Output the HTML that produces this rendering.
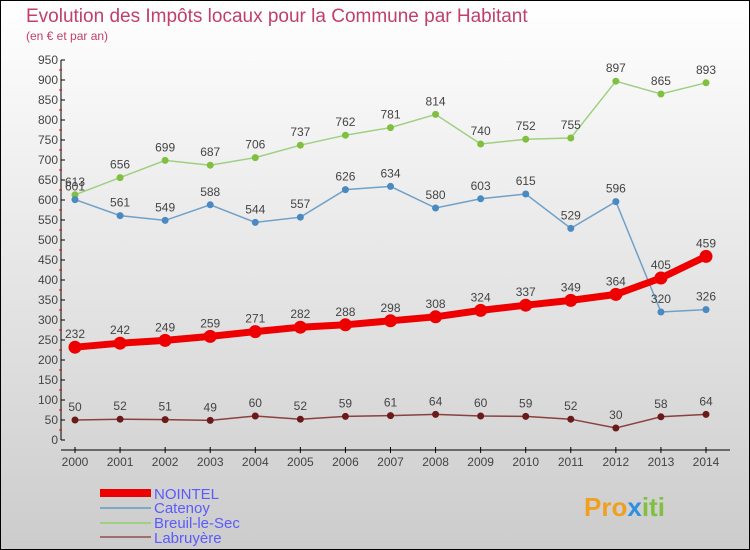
<!DOCTYPE html>
<html><head><meta charset="utf-8"><style>
body{margin:0}
#c{width:750px;height:550px;position:relative;overflow:hidden}
svg text{font-family:"Liberation Sans",sans-serif}
</style></head><body>
<div id="c">
<svg id="s" width="750" height="550" xmlns="http://www.w3.org/2000/svg">
<defs><linearGradient id="bg" x1="0" y1="0" x2="0" y2="1"><stop offset="0" stop-color="#ffffff"/><stop offset="1" stop-color="#cccccc"/></linearGradient></defs>
<rect x="0.5" y="0.5" width="749" height="549" fill="url(#bg)" stroke="#000"/>
<text x="26" y="22" font-size="19" fill="#c0406a">Evolution des Impôts locaux pour la Commune par Habitant</text>
<text x="26" y="40" font-size="12" fill="#c0406a">(en € et par an)</text>
<g id="axes"></g><g id="series"></g>
<g>
<rect x="100" y="489" width="51" height="8" fill="#e00"/>
<text x="154" y="499" font-size="15" fill="#5a5aff">NOINTEL</text>
<rect x="100" y="507" width="51" height="2" fill="#7fa8c8"/>
<text x="154" y="513" font-size="15" fill="#5a5aff">Catenoy</text>
<rect x="100" y="522" width="51" height="2" fill="#9fd080"/>
<text x="154" y="528" font-size="15" fill="#5a5aff">Breuil-le-Sec</text>
<rect x="100" y="536" width="51" height="2" fill="#a07070"/>
<text x="154" y="543" font-size="15" fill="#5a5aff">Labruyère</text>
</g>
<text x="584" y="516" font-size="26" font-weight="bold" fill="#f0a020">Pro<tspan fill="#3090e0">x</tspan><tspan fill="#80c040">iti</tspan></text>
</svg></div>
<script>
const years=[2000,2001,2002,2003,2004,2005,2006,2007,2008,2009,2010,2011,2012,2013,2014];
const nointel=[232,242,249,259,271,282,288,298,308,324,337,349,364,405,459];
const catenoy=[601,561,549,588,544,557,626,634,580,603,615,529,596,320,326];
const breuil=[613,656,699,687,706,737,762,781,814,740,752,755,897,865,893];
const labruyere=[50,52,51,49,60,52,59,61,64,60,59,52,30,58,64];
const yTicks=[0,50,100,150,200,250,300,350,400,450,500,550,600,650,700,750,800,850,900,950];
const NS="http://www.w3.org/2000/svg";
const X=i=>75+i*(706-75)/(years.length-1);
const Y=v=>440-v*0.4;
function mk(t,a,p){const e=document.createElementNS(NS,t);for(const k in a)e.setAttribute(k,a[k]);p.appendChild(e);return e;}
const ax=document.getElementById('axes');
const yl=mk('line',{x1:61,y1:Y(950),x2:61,y2:Y(0),stroke:'#000'},ax);


const xl=mk('line',{x1:61,y1:450,x2:730,y2:450,stroke:'#000'},ax);


yTicks.forEach(v=>{
 mk('line',{x1:61,y1:Y(v),x2:65,y2:Y(v),stroke:'#000'},ax);
 if(v<950) mk('line',{x1:59,y1:Y(v+25),x2:62,y2:Y(v+25),stroke:'#e00'},ax);
 const t=mk('text',{x:58,y:Y(v)+4,'font-size':12,'text-anchor':'end',fill:'#444'},ax);t.textContent=v;
 
 
});
years.forEach((y,i)=>{
 mk('line',{x1:X(i),y1:447,x2:X(i),y2:453,stroke:'#000'},ax);
 const t=mk('text',{x:X(i),y:466,'font-size':12,'text-anchor':'middle',fill:'#444'},ax);t.textContent=y;
 
 
});
const sg=document.getElementById('series');
function series(name,data,color,w,r,dot){
 const g=mk('g',{},sg);
 
 
 mk('polyline',{points:data.map((v,i)=>X(i)+','+Y(v)).join(' '),fill:'none',stroke:color,'stroke-width':w},g);
 data.forEach((v,i)=>{
  const c=mk('circle',{cx:X(i),cy:Y(v),r:r,fill:dot},g);
  
  
  const t=mk('text',{x:X(i),y:Y(v)-9,'font-size':12,'text-anchor':'middle',fill:'#444'},g);t.textContent=v;
 });
}
series('breuil-le-sec',breuil,'#9fd080',1.5,3.5,'#80c040');
series('catenoy',catenoy,'#6fa0c8',1.5,3.5,'#4a8ac0');
series('labruyere',labruyere,'#8a4040',1.5,3.5,'#6a1a1a');
series('nointel',nointel,'#e00',7,6.5,'#e00');
</script>
</body></html>
